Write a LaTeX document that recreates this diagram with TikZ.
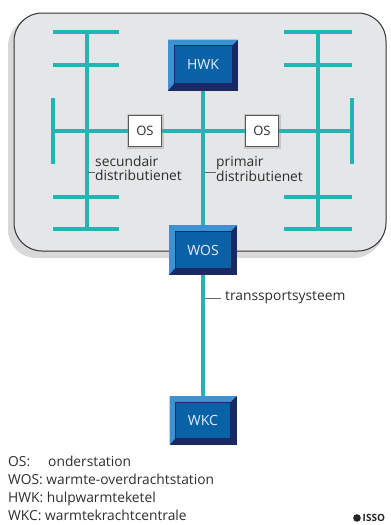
\documentclass[tikz,border=0pt]{standalone}
\usepackage{fontspec}
\setmainfont{Open Sans}
\definecolor{teal1}{RGB}{36,180,180}
\definecolor{navy1}{RGB}{26,40,100}
\definecolor{bevel1}{RGB}{62,146,210}
\definecolor{boxblue}{RGB}{10,98,166}
\definecolor{panelfill}{RGB}{229,230,231}
\definecolor{txt}{RGB}{45,45,45}
\tikzset{
  pipe/.style={draw=teal1, line width=3.8pt},
  leader/.style={draw=black!60, line width=0.6pt},
  station/.style={minimum width=#1, minimum height=51pt, inner sep=0pt, fill=navy1,
    text=white!92!blue, font=\fontsize{14}{16}\selectfont,
    path picture={
      \fill[bevel1] (path picture bounding box.north west) -- (path picture bounding box.north east)
        -- ([xshift=-6pt,yshift=-6pt]path picture bounding box.north east)
        -- ([xshift=6pt,yshift=-6pt]path picture bounding box.north west)
        -- ([xshift=6pt,yshift=7pt]path picture bounding box.south west)
        -- (path picture bounding box.south west) -- cycle;
      \draw[fill=boxblue, draw=navy1, line width=1pt]
        ([xshift=6pt,yshift=-6pt]path picture bounding box.north west) rectangle
        ([xshift=-6pt,yshift=7pt]path picture bounding box.south east);
    }},
  osbox/.style={minimum width=33pt, minimum height=31pt, inner sep=0pt, fill=white,
    draw=black!65, line width=0.8pt, text=txt, font=\fontsize{13}{15}\selectfont,
    preaction={draw=black!22, line width=4pt}},
  lbl/.style={inner sep=0pt, text=txt, align=left, font=\fontsize{13.8}{13.5}\selectfont},
  legend/.style={inner sep=0pt, anchor=base west, text=txt, font=\fontsize{13.8}{15}\selectfont}
}
\begin{document}
\begin{tikzpicture}[x=1pt,y=-1pt]
\useasboundingbox (0,0) rectangle (391,525);
% panel with shadow
\fill[black!30, rounded corners=28pt] (10,16) rectangle (384,256);
\fill[black!15, rounded corners=28pt] (8,18) rectangle (382,258);
\node[draw=black!80, line width=1pt, fill=panelfill, rounded corners=28pt,
  minimum width=372pt, minimum height=238pt, inner sep=0pt] (panel) at (200,132) {};

% left tree
\draw[pipe] (87,32) -- (87,229);
\draw[pipe] (53,32) -- (119,32);
\draw[pipe] (53,65) -- (119,65);
\draw[pipe] (53,197) -- (119,197);
\draw[pipe] (53,229) -- (119,229);
\draw[pipe] (53,98) -- (53,164);
% right tree
\draw[pipe] (318,32) -- (318,229);
\draw[pipe] (284,32) -- (352,32);
\draw[pipe] (284,65) -- (352,65);
\draw[pipe] (284,197) -- (352,197);
\draw[pipe] (284,229) -- (352,229);
\draw[pipe] (352,98) -- (352,164);

% nodes
\node[station=70pt] (hwk) at (203,65) {HWK};
\node[station=68pt, minimum height=50pt] (wos) at (203,250) {WOS};
\node[station=67pt, minimum height=49pt] (wkc) at (203,420.5) {WKC};
\node[osbox] (osL) at (145,131) {OS};
\node[osbox] (osR) at (262,131) {OS};
\coordinate (lend) at (53,131);
\coordinate (rend) at (352,131);

% connectors
\draw[pipe] (lend) -- (osL.west);
\draw[pipe] (osL.east) -- (osR.west);
\draw[pipe] (osR.east) -- (rend);
\draw[pipe] (hwk.south) -- (wos.north);
\draw[pipe] (wos.south) -- (wkc.north);

% labels
\node[lbl, anchor=north west] (lbS) at (95,156) {secundair\\distributienet};
\node[lbl, anchor=north west] (lbP) at (216,156) {primair\\distributienet};
\node[lbl, anchor=west] (lbT) at (225,298) {transsportsysteem};
\coordinate (tS) at (88,172);
\coordinate (tP) at (205,172);
\coordinate (tT) at (205,298.5);
\draw[leader] (tS) -- (tS -| lbS.west);
\draw[leader] (tP) -- (tP -| lbP.west);
\draw[leader] (tT) -- ([xshift=-4pt]tT -| lbT.west);

% legend
\node[legend] (l1) at (8,466.5) {OS:};
\node[legend] (l1b) at (48,466.5) {onderstation};
\node[legend] (l2) at (8,484.5) {WOS: warmte-overdrachtstation};
\node[legend] (l3) at (8,502.5) {HWK: hulpwarmteketel};
\node[legend] (l4) at (8,520.5) {WKC: warmtekrachtcentrale};

% logo
\fill[black!85] (357,518) circle (3.8pt);
\node[inner sep=0pt, anchor=west, font=\bfseries\fontsize{10}{10}\selectfont, text=black!85] (logo) at (362.5,518) {ISSO};
\end{tikzpicture}
\end{document}
